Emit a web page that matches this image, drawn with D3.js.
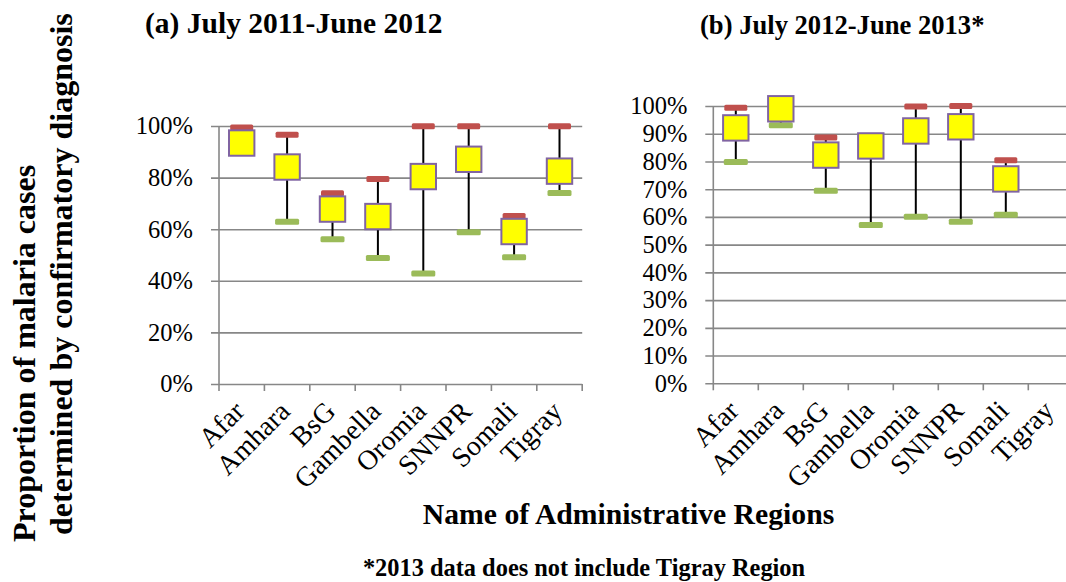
<!DOCTYPE html>
<html><head><meta charset="utf-8">
<script src="https://cdn.jsdelivr.net/npm/d3@7/dist/d3.min.js"></script>
<style>
html,body{margin:0;padding:0;background:#fff;}
svg{display:block;font-family:"Liberation Serif","Times New Roman",serif;}
</style></head>
<body>
<svg id="c" width="1066" height="582"></svg>
<script>
const categories = ["Afar","Amhara","BsG","Gambella","Oromia","SNNPR","Somali","Tigray"];
// panel (a) July 2011-June 2012 (percent)
const high2012 = [99.4, 96.6, 73.9, 79.5, 99.9, 99.9, 65.1, 99.9];
const mid2012  = [93.4, 84.1, 67.8, 64.9, 80.4, 87.1, 59.1, 82.5];
const low2012  = [90.0, 62.9, 56.1, 48.8, 42.8, 58.8, 49.1, 74.0];
// panel (b) July 2012-June 2013 (percent), no Tigray data
const high2013 = [99.4, 100, 88.6, 89.0, 99.8, 100, 80.4, null];
const mid2013  = [92.1, 99.0, 82.3, 85.6, 91.0, 92.5, 73.7, null];
const low2013  = [79.8, 93.1, 69.4, 57.1, 60.1, 58.3, 60.8, null];
const ticks2012 = [0, 0.2, 0.4, 0.6, 0.8, 1.0];
const ticks2013 = [0, 0.1, 0.2, 0.3, 0.4, 0.5, 0.6, 0.7, 0.8, 0.9, 1.0];

const svg = d3.select("#c");
const GRID = "#878787";

function panel(o){
  const g = svg.append("g");
  const x = d3.scaleBand().domain(categories).range([o.x0, o.x1]);
  const y = d3.scaleLinear().domain([0, 1]).range([o.y0, o.y1]);
  const grid = d3.axisLeft(y).tickValues(o.ticks).tickSize(-(o.x1 - o.x0 + 8)).tickFormat("");
  g.append("g").attr("transform", `translate(${o.x0 - 8},0)`).call(grid)
    .call(s => s.select(".domain").remove())
    .call(s => s.selectAll("line").attr("stroke", GRID).attr("stroke-width", 1.6));
  const lab = d3.axisLeft(y).tickValues(o.ticks).tickSize(0).tickPadding(26).tickFormat(d3.format(".0%"));
  g.append("g").attr("transform", `translate(${o.x0},0)`).call(lab)
    .call(s => s.select(".domain").remove())
    .call(s => s.selectAll("text").attr("font-family", "Liberation Serif").attr("font-size", 24.5).attr("fill", "#000"));
  g.append("line").attr("x1", o.x0).attr("x2", o.x0).attr("y1", y(1)).attr("y2", y(0))
    .attr("stroke", GRID).attr("stroke-width", 1.6);
  const bounds = categories.map(c => x(c)).concat([o.x1]);
  g.selectAll(".xt").data(bounds).join("line")
    .attr("x1", d => d).attr("x2", d => d).attr("y1", y(0)).attr("y2", y(0) + 7)
    .attr("stroke", GRID).attr("stroke-width", 1.6);
  g.selectAll(".xl").data(categories).join("text")
    .attr("transform", d => `translate(${x(d) + x.bandwidth()/2 + 4.5},${y(0) + 29}) rotate(-45)`)
    .attr("text-anchor", "end").attr("font-size", 28).attr("fill", "#000").text(d => d);
  const rows = categories.map((c, i) => ({c, hi: o.hi[i], mid: o.mid[i], lo: o.lo[i]})).filter(d => d.mid != null);
  const cx = d => x(d.c) + x.bandwidth()/2;
  g.selectAll(".hl").data(rows).join("line")
    .attr("x1", cx).attr("x2", cx).attr("y1", d => y(d.hi/100)).attr("y2", d => y(d.lo/100))
    .attr("stroke", "#000").attr("stroke-width", 2);
  g.selectAll(".hm").data(rows).join("rect")
    .attr("x", d => cx(d) - 11.5).attr("y", d => y(d.hi/100) - 3).attr("width", 23).attr("height", 6)
    .attr("rx", 1.5).attr("fill", "#C0504D");
  g.selectAll(".lm").data(rows).join("rect")
    .attr("x", d => cx(d) - 12).attr("y", d => y(d.lo/100) - 3).attr("width", 24).attr("height", 6)
    .attr("rx", 1.5).attr("fill", "#9BBB59");
  g.selectAll(".sq").data(rows).join("rect")
    .attr("x", d => cx(d) - 12.7).attr("y", d => y(d.mid/100) - 12.7).attr("width", 25.4).attr("height", 25.4)
    .attr("fill", "#FFFF00").attr("stroke", "#8064A2").attr("stroke-width", 2);
}

panel({x0: 219, x1: 582.2, y0: 384, y1: 126, ticks: ticks2012, hi: high2012, mid: mid2012, lo: low2012});
panel({x0: 713.3, x1: 1073.3, y0: 383.3, y1: 106, ticks: ticks2013, hi: high2013, mid: mid2013, lo: low2013});

svg.append("text").attr("x", 145).attr("y", 33).attr("font-size", 29.5).attr("font-weight", "bold").text("(a) July 2011-June 2012");
svg.append("text").attr("x", 700).attr("y", 34).attr("font-size", 26.6).attr("font-weight", "bold").text("(b) July 2012-June 2013*");
svg.append("text").attr("transform", "translate(35,542) rotate(-90)").attr("font-size", 32).attr("font-weight", "bold").text("Proportion of malaria cases");
svg.append("text").attr("transform", "translate(71.5,535) rotate(-90)").attr("font-size", 32).attr("font-weight", "bold").text("determined by confirmatory diagnosis");
svg.append("text").attr("x", 628.5).attr("y", 524).attr("text-anchor", "middle").attr("font-size", 29.7).attr("font-weight", "bold").text("Name of Administrative Regions");
svg.append("text").attr("x", 584).attr("y", 576).attr("text-anchor", "middle").attr("font-size", 24.4).attr("font-weight", "bold").text("*2013 data does not include Tigray Region");
</script>
</body></html>
